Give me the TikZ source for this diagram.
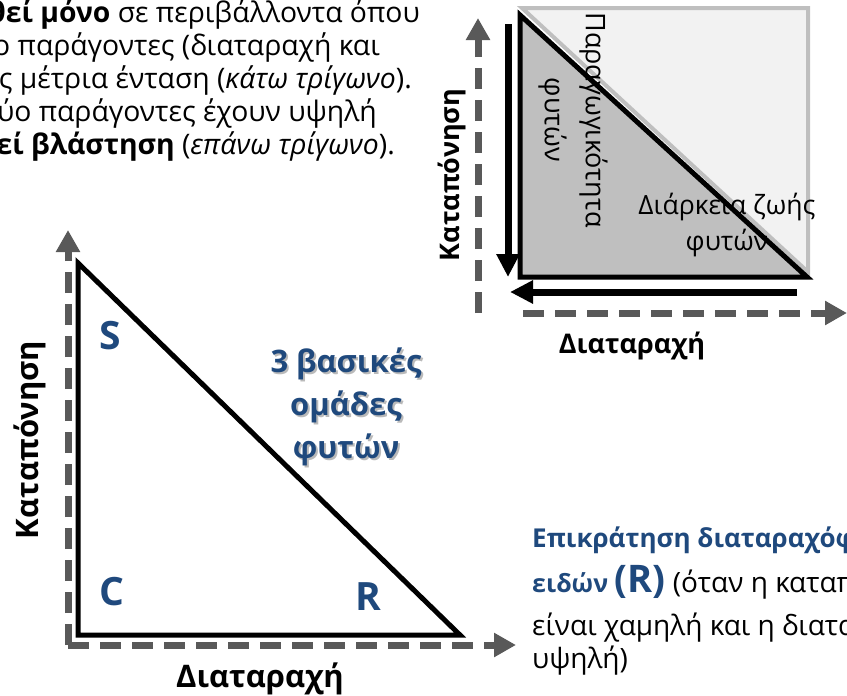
\documentclass[tikz,border=0pt]{standalone}
\usepackage{fontspec}
\setmainfont{Open Sans}
\usetikzlibrary{arrows.meta}
\definecolor{axisgray}{RGB}{89,89,89}
\definecolor{textblue}{RGB}{31,73,125}
\definecolor{darkfill}{RGB}{191,191,191}
\definecolor{lightfill}{RGB}{242,242,242}
\tikzset{
  axis/.style={axisgray, line width=7pt, dash pattern=on 21pt off 11pt,
    -{Triangle[width=23pt,length=22pt]}},
  bigarrow/.style={black, line width=7pt, -{Triangle[width=22pt,length=23pt]}},
  bodytext/.style={inner sep=0pt, font=\fontsize{28.3}{33}\selectfont},
  axislabel/.style={inner sep=0pt, font=\bfseries\fontsize{31}{37}\selectfont},
  smalllabel/.style={inner sep=0pt, font=\bfseries\fontsize{27}{32}\selectfont},
  corner/.style={inner sep=0pt, textblue, font=\bfseries\fontsize{39}{46}\selectfont},
}
\begin{document}
\begin{tikzpicture}[x=1pt, y=-1pt]
    \useasboundingbox (0,0) rectangle (847,696);
    \clip (0,0) rectangle (847,696);

    % 上方文字
    \node[bodytext, anchor=base east] (t1) at (420,22) {\textbf{θεί μόνο} σε περιβάλλοντα όπου};
    \node[bodytext, anchor=base east] (t2) at (380,55) {ύο παράγοντες (διαταραχή και};
    \node[bodytext, anchor=base east] (t3) at (412,88) {ς μέτρια ένταση (\textit{κάτω τρίγωνο}).};
    \node[bodytext, anchor=base east] (t4) at (377,121) {δύο παράγοντες έχουν υψηλή};
    \node[bodytext, anchor=base east] (t5) at (395,154) {\textbf{εί βλάστηση} (\textit{επάνω τρίγωνο}).};

    % 右上图: 三角形
    \filldraw[fill=lightfill, draw=darkfill, line width=4pt, line join=miter]
        (522,8) -- (808,8) -- (808,272) -- cycle;
    \filldraw[fill=darkfill, draw=black, line width=5pt, line join=miter]
        (520,15) -- (520,277) -- (807,277) -- cycle;

    % 右上图: 箭头
    \coordinate (va) at (508,24);
    \coordinate (vb) at (508,277);
    \coordinate (ha) at (797,292);
    \coordinate (hb) at (510,292);
    \draw[bigarrow] (va) -- (vb);
    \draw[bigarrow] (ha) -- (hb);

    % 右上图: 坐标轴
    \coordinate (ry0) at (478,313);
    \coordinate (ry1) at (478,18);
    \coordinate (rx0) at (523,313);
    \coordinate (rx1) at (847,313);
    \draw[axis] (ry0) -- (ry1);
    \draw[axis] (rx0) -- (rx1);

    \node[smalllabel, rotate=90] (rstress) at (452,175) {Καταπόνηση};
    \node[smalllabel] (rdist) at (632,346) {Διαταραχή};
    \node[inner sep=0pt, rotate=-90, align=center, font=\fontsize{27}{41}\selectfont]
        (prod) at (573,120) {Παραγωγικότητα\\φυτών};
    \node[inner sep=0pt, align=center, font=\fontsize{26.5}{36}\selectfont]
        (life) at (727,225) {Διάρκεια ζωής\\φυτών};

    % 左下图: 坐标轴
    \coordinate (o) at (68,645);
    \coordinate (ly) at (68,230);
    \coordinate (lx) at (516,645);
    \draw[axis] (o) -- (ly);
    \draw[axis] (o) -- (lx);

    % 左下图: 三角形
    \draw[black, line width=5pt, line join=miter] (78,263) -- (78,635) -- (460,635) -- cycle;

    \node[corner] (S) at (110,336) {S};
    \node[corner] (C) at (112,592) {C};
    \node[corner] (R) at (368,597) {R};

    \node[inner sep=0pt, align=center, text=black!45, opacity=0.6,
        font=\bfseries\fontsize{31}{43}\selectfont] (groupshadow) at (348,409)
        {3 βασικές\\ομάδες\\φυτών};
    \node[inner sep=0pt, align=center, textblue,
        font=\bfseries\fontsize{31}{43}\selectfont] (group) at (346,407)
        {3 βασικές\\ομάδες\\φυτών};

    \node[axislabel, rotate=90] (lstress) at (30,440) {Καταπόνηση};
    \node[axislabel] (ldist) at (260,679) {Διαταραχή};

    % 右下文字
    \node[inner sep=0pt, anchor=base west, textblue, font=\bfseries\fontsize{26}{30}\selectfont]
        (b1) at (532,547) {Επικράτηση διαταραχόφιλων};
    \node[inner sep=0pt, anchor=base west, font=\fontsize{28}{33}\selectfont] (b2) at (532,592)
        {\textcolor{textblue}{\bfseries\fontsize{25}{30}\selectfont ειδών
        {\fontsize{38}{44}\selectfont (R)}} (όταν η καταπόνηση};
    \node[inner sep=0pt, anchor=base west, font=\fontsize{28}{33}\selectfont] (b3) at (532,635) {είναι χαμηλή και η διαταραχή};
    \node[inner sep=0pt, anchor=base west, font=\fontsize{28}{33}\selectfont] (b4) at (532,668) {υψηλή)};
\end{tikzpicture}
\end{document}
